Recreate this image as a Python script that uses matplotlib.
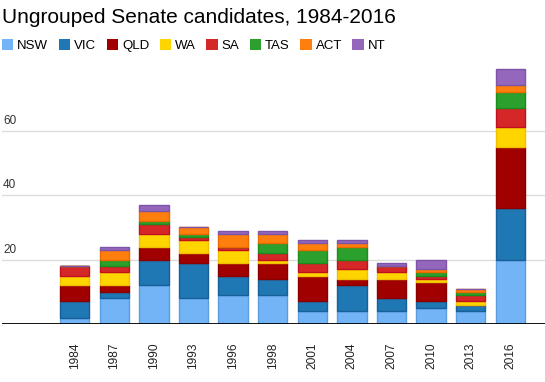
import matplotlib
matplotlib.use("Agg")
from matplotlib import pyplot as plt
import numpy as np

plt.rcParams['font.family'] = ['Liberation Sans', 'DejaVu Sans']

years = ["1984", "1987", "1990", "1993", "1996", "1998", "2001", "2004", "2007", "2010", "2013", "2016"]
states = ["NSW", "VIC", "QLD", "WA", "SA", "TAS", "ACT", "NT"]

nsw = [2, 8, 12, 8, 9, 9, 4, 4, 4, 5, 4, 20]
vic = [5, 2, 8, 11, 6, 5, 3, 8, 4, 2, 2, 16]
qld = [5, 2, 4, 3, 4, 5, 8, 2, 6, 6, 0, 19]
wa = [3, 4, 4, 4, 4, 1, 1, 3, 2, 1, 1, 6]
sa = [3, 2, 3, 1, 1, 2, 3, 3, 2, 1, 2, 6]
tas = [0, 2, 1, 1, 0, 3, 4, 4, 0, 1, 1, 5]
act = [0, 3, 3, 2, 4, 3, 2, 1, 0, 1, 1, 2]
nt = [0, 1, 2, 0, 1, 1, 1, 1, 1, 3, 0, 5]

series = [nsw, vic, qld, wa, sa, tas, act, nt]
fills = ["#72b4f5", "#1f77b4", "#a00000", "#ffd500", "#d62728", "#2ca02c", "#ff7f0e", "#9467bd"]
edges = ["#5a9ee0", "#17609a", "#8a0000", "#f0c000", "#c01020", "#1c8c1c", "#e86a00", "#7d55a8"]

fig = plt.figure(figsize=(5.45, 3.82), dpi=100)
ax = fig.add_axes([2 / 545, 58 / 382, 543 / 545, 264 / 382])

x = np.arange(len(years))
bottom = np.zeros(len(years))
handles = []
for vals, fc, ec, name in zip(series, fills, edges, states):
    b = ax.bar(x, vals, width=0.745, bottom=bottom, color=fc, edgecolor=ec,
               linewidth=1.0, label=name, zorder=3)
    handles.append(b)
    bottom += np.array(vals)

ax.set_xlim(-1.836, 11.876)
ax.set_ylim(0, 81.9)

for v in [20, 40, 60]:
    ax.axhline(v, color="#dcdcdc", linewidth=1.0, zorder=1)
    ax.text(-1.81, v + 1.2, str(v), fontsize=8.5, color="#333333", ha="left", va="bottom")
ax.axhline(0, color="black", linewidth=1.3, zorder=4)

ax.set_yticks([])
ax.set_xticks(x)
ax.set_xticklabels(years, rotation=90, fontsize=8.6, color="#222222")
ax.tick_params(axis="x", length=0, pad=13)
for s in ax.spines.values():
    s.set_visible(False)

fig.text(2 / 545, 1 - 23 / 382, "Ungrouped Senate candidates, 1984-2016", fontsize=15,
         ha="left", va="baseline", color="black")

leg = fig.legend(handles=handles, labels=states, loc="upper left",
                 bbox_to_anchor=(0.004, 1 - 39 / 382), ncol=8, frameon=False,
                 fontsize=9.5, handlelength=0.85, handleheight=0.95,
                 handletextpad=0.3, columnspacing=0.8, borderaxespad=0, borderpad=0)
for h in leg.legend_handles:
    h.set_edgecolor("none")

fig.savefig("out.png", dpi=100)
